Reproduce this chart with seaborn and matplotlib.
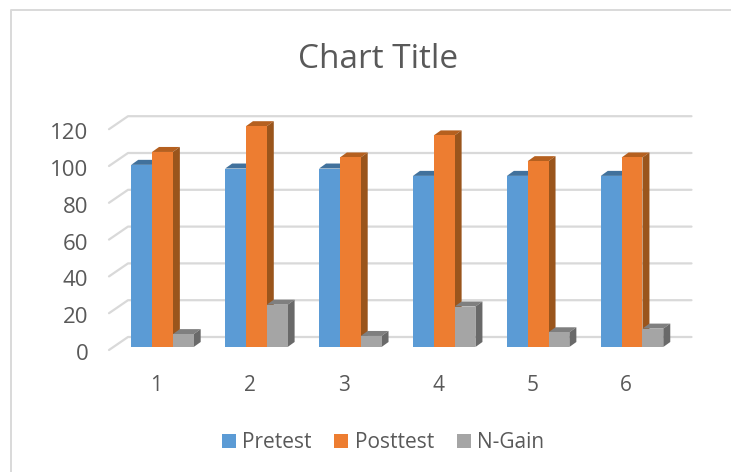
import matplotlib
matplotlib.use('Agg')
import matplotlib.pyplot as plt
from matplotlib.lines import Line2D
from matplotlib.patches import Polygon
from matplotlib.transforms import ScaledTranslation
import pandas as pd
import seaborn as sns

groups = ['1', '2', '3', '4', '5', '6']
pretest = [99, 97, 97, 93, 93, 93]
posttest = [106, 120, 103, 115, 101, 103]
ngain = [7, 23, 6, 22, 8, 10]
yticks = [0, 20, 40, 60, 80, 100, 120]

W, H = 731, 472
TEXT = '#595959'
GRID = '#D9D9D9'
colors = {'Pretest': '#5B9BD5', 'Posttest': '#ED7D31', 'N-Gain': '#A5A5A5'}
tops = ['#41719C', '#B5601F', '#7F7F7F']
sides = ['#3A6690', '#9A551C', '#696969']

sns.set_theme(style='white')
plt.rcParams['font.family'] = ['Open Sans', 'DejaVu Sans']

df = pd.DataFrame({
    'group': groups * 3,
    'series': ['Pretest'] * 6 + ['Posttest'] * 6 + ['N-Gain'] * 6,
    'value': pretest + posttest + ngain,
})

fig = plt.figure(figsize=(W / 100, H / 100), dpi=100)
# front plane of the bars, in pixels of the picture
left, right, base = 115.5, 679, 347
px_y = 1.84
ax = fig.add_axes([left / W, 1 - base / H, (right - left) / W, 120 * px_y / H])

sns.barplot(data=df, x='group', y='value', hue='series', order=groups,
            hue_order=list(colors), palette=colors, width=0.665, gap=0,
            saturation=1, linewidth=0, ax=ax, zorder=3)
ax.set_xlim(-0.5, 5.5)
ax.set_ylim(0, 120)
ax.set_xlabel('')
ax.set_ylabel('')
ax.set_yticks(yticks)
sns.despine(ax=ax, left=True, bottom=True)

px_x = (right - left) / 6


def xp(p):
    return p / px_x


def yp(p):
    return p / px_y


# walls: back line plus the diagonal on the left
for v in yticks:
    ax.plot([-0.5 - xp(6.5), -0.5 + xp(12.5), 5.5 + xp(12.5)],
            [v - yp(3), v + yp(10), v + yp(10)],
            color=GRID, lw=1.6, clip_on=False, zorder=1, solid_capstyle='round')

# depth of each bar
dx, dy = xp(7), yp(5)
for i, cont in enumerate(ax.containers):
    for bar in cont:
        bar.set_zorder(3 + i)
        x0, w, h = bar.get_x(), bar.get_width(), bar.get_height()
        ax.add_patch(Polygon([(x0, h), (x0 + dx, h + dy), (x0 + w + dx, h + dy), (x0 + w, h)],
                             closed=True, fc=tops[i], lw=0, clip_on=False, zorder=2.5 + i))
        ax.add_patch(Polygon([(x0 + w, 0), (x0 + w + dx, dy), (x0 + w + dx, h + dy), (x0 + w, h)],
                             closed=True, fc=sides[i], lw=0, clip_on=False, zorder=2.5 + i))

ax.tick_params(axis='both', length=0, labelcolor=TEXT)
ax.tick_params(axis='y', pad=19.5, labelsize=16)
ax.tick_params(axis='x', pad=20, labelsize=15)
for lab in ax.get_yticklabels():
    lab.set_transform(lab.get_transform() + ScaledTranslation(0, -5 / 100, fig.dpi_scale_trans))
for lab in ax.get_xticklabels():
    lab.set_transform(lab.get_transform() + ScaledTranslation(-6 / 100, 0, fig.dpi_scale_trans))

handles, labels = ax.get_legend_handles_labels()
ax.legend(handles, labels, ncol=3, frameon=False, loc='center',
          bbox_to_anchor=(383 / W, 1 - 443 / H), bbox_transform=fig.transFigure,
          fontsize=15, labelcolor=TEXT, handlelength=0.67, handleheight=0.67,
          handletextpad=0.3, columnspacing=1.1)

fig.text(378 / W, 1 - 59 / H, 'Chart Title', ha='center', va='center',
         fontsize=24, color=TEXT)

# chart frame, only top and left show in the crop
fig.add_artist(Line2D([11 / W, 11 / W, 1], [0, 1 - 10 / H, 1 - 10 / H], color=GRID, lw=1.4))

fig.savefig('out.png', dpi=100)
